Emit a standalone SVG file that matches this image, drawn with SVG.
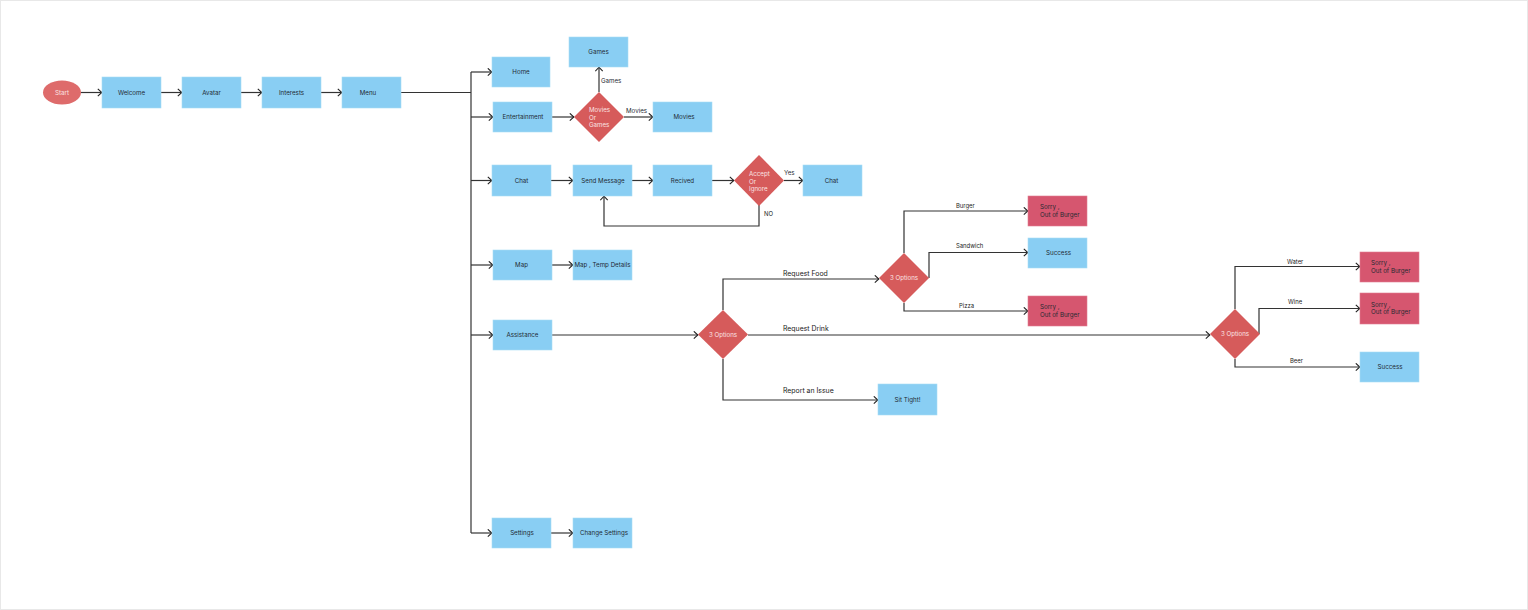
<svg xmlns="http://www.w3.org/2000/svg" width="1528" height="610" viewBox="0 0 1528 610">
<style>
.bx{fill:#89CEF3;stroke:#a9dcf6;stroke-width:0.6}
.rb{fill:#D6566F;stroke:#e07d90;stroke-width:0.6}
.dm{fill:#D65B5B}
.t{font-family:Inter,"Liberation Sans",sans-serif;font-size:6.2px;fill:#1f2a33;text-anchor:middle}
.tl{font-family:Inter,"Liberation Sans",sans-serif;font-size:6.2px;fill:#1f2a33}
.tw{font-family:Inter,"Liberation Sans",sans-serif;font-size:6.2px;fill:#fbe3e3}
.lb{font-family:Inter,"Liberation Sans",sans-serif;font-size:5.9px;fill:#222}
.lb2{font-family:Inter,"Liberation Sans",sans-serif;font-size:6.9px;fill:#222}
.c{fill:none;stroke:#333;stroke-width:1.2}
</style>
<defs>
<marker id="ar" markerUnits="userSpaceOnUse" markerWidth="6" markerHeight="9" viewBox="0 0 6 9" refX="5.2" refY="4.5" orient="auto">
<path d="M1,0.8 L5,4.5 L1,8.2" fill="none" stroke="#222" stroke-width="1.1"/>
</marker>
</defs>
<rect x="0.5" y="0.5" width="1527" height="609" fill="#fff" stroke="#e8e8e8"/>

<g id="connectors">
<path class="c" d="M81,92.5 H102" marker-end="url(#ar)"/>
<path class="c" d="M161,92.5 H182" marker-end="url(#ar)"/>
<path class="c" d="M241,92.5 H262" marker-end="url(#ar)"/>
<path class="c" d="M321,92.5 H342" marker-end="url(#ar)"/>
<path class="c" d="M401,92.5 H471"/>
<path class="c" d="M471,72 V533"/>
<path class="c" d="M471,72 H492" marker-end="url(#ar)"/>
<path class="c" d="M471,117 H493" marker-end="url(#ar)"/>
<path class="c" d="M471,180.5 H492" marker-end="url(#ar)"/>
<path class="c" d="M471,265 H493" marker-end="url(#ar)"/>
<path class="c" d="M471,335 H493" marker-end="url(#ar)"/>
<path class="c" d="M471,533 H492" marker-end="url(#ar)"/>
<!-- entertainment -->
<path class="c" d="M552,117 H574" marker-end="url(#ar)"/>
<path class="c" d="M599,92 V67" marker-end="url(#ar)"/>
<path class="c" d="M624,117 H653" marker-end="url(#ar)"/>
<!-- chat -->
<path class="c" d="M551,180.5 H573" marker-end="url(#ar)"/>
<path class="c" d="M632,180.5 H653" marker-end="url(#ar)"/>
<path class="c" d="M712,180.5 H734" marker-end="url(#ar)"/>
<path class="c" d="M784,180.5 H803" marker-end="url(#ar)"/>
<path class="c" d="M759,205 V226 H604 V196" marker-end="url(#ar)"/>
<!-- map -->
<path class="c" d="M552,265 H573" marker-end="url(#ar)"/>
<!-- settings -->
<path class="c" d="M551,533 H573" marker-end="url(#ar)"/>
<!-- assistance -->
<path class="c" d="M552,335 H698" marker-end="url(#ar)"/>
<path class="c" d="M723,310 V279 H879" marker-end="url(#ar)"/>
<path class="c" d="M748,335 H1210" marker-end="url(#ar)"/>
<path class="c" d="M723,359 V400 H878" marker-end="url(#ar)"/>
<!-- food -->
<path class="c" d="M904,253 V211 H1028" marker-end="url(#ar)"/>
<path class="c" d="M929,278 V252.5 H1028" marker-end="url(#ar)"/>
<path class="c" d="M904,303 V311 H1028" marker-end="url(#ar)"/>
<!-- drink -->
<path class="c" d="M1235,309 V266.5 H1360" marker-end="url(#ar)"/>
<path class="c" d="M1259,334 V308.5 H1360" marker-end="url(#ar)"/>
<path class="c" d="M1235,359 V367 H1360" marker-end="url(#ar)"/>
<!-- labels -->
<text class="tl" x="601" y="82.5">Games</text>
<text class="tl" x="626" y="113">Movies</text>
<text class="tl" x="784" y="175">Yes</text>
<text class="lb" x="764" y="215.5">NO</text>
<text class="lb2" x="783" y="275.5">Request Food</text>
<text class="lb2" x="783" y="330.5">Request Drink</text>
<text class="lb2" x="783" y="392.5">Report an Issue</text>
<text class="lb" x="956" y="208">Burger</text>
<text class="lb" x="956" y="247.5">Sandwich</text>
<text class="lb" x="959" y="307.5">Pizza</text>
<text class="lb" x="1287" y="263.5">Water</text>
<text class="lb" x="1288" y="303.5">Wine</text>
<text class="lb" x="1290" y="363">Beer</text>
</g>

<g id="start"><ellipse cx="62" cy="92.5" rx="19" ry="12" fill="#DE6B6B"/><text class="tw" x="62" y="94.7" text-anchor="middle">Start</text></g>
<g id="welcome"><rect class="bx" x="102" y="77" width="59" height="31"/><text class="t" x="131.5" y="94.7">Welcome</text></g>
<g id="avatar"><rect class="bx" x="182" y="77" width="59" height="31"/><text class="t" x="211.5" y="94.7">Avatar</text></g>
<g id="interests"><rect class="bx" x="262" y="77" width="59" height="31"/><text class="t" x="291.5" y="94.7">Interests</text></g>
<g id="menu"><rect class="bx" x="342" y="77" width="59" height="31"/><text class="t" x="368" y="94.7">Menu</text></g>

<g id="home"><rect class="bx" x="492" y="57" width="58" height="30"/><text class="t" x="521" y="74.2">Home</text></g>
<g id="entertainment"><rect class="bx" x="493" y="102" width="59" height="30"/><text class="t" x="523" y="119.2">Entertainment</text></g>
<g id="movies-or-games"><path class="dm" d="M599,92 L624,117 L599,142 L574,117 Z"/><text class="tw" x="589" y="112.3">Movies</text><text class="tw" x="589" y="119.6">Or</text><text class="tw" x="589" y="127">Games</text></g>
<g id="games"><rect class="bx" x="569" y="37" width="59" height="30"/><text class="t" x="598.5" y="54.2">Games</text></g>
<g id="movies"><rect class="bx" x="653" y="102" width="59" height="30"/><text class="t" x="684" y="119.2">Movies</text></g>

<g id="chat"><rect class="bx" x="492" y="165" width="59" height="31"/><text class="t" x="521.5" y="182.7">Chat</text></g>
<g id="send-message"><rect class="bx" x="573" y="165" width="59" height="31"/><text class="t" x="603" y="182.7">Send Message</text></g>
<g id="recived"><rect class="bx" x="653" y="165" width="59" height="31"/><text class="t" x="682.5" y="182.7">Recived</text></g>
<g id="accept-or-ignore"><path class="dm" d="M759,155 L784,180.5 L759,206 L734,180.5 Z"/><text class="tw" x="749" y="176.3">Accept</text><text class="tw" x="749" y="183.7">Or</text><text class="tw" x="749" y="191">Ignore</text></g>
<g id="chat2"><rect class="bx" x="803" y="165" width="59" height="31"/><text class="t" x="831.5" y="182.7">Chat</text></g>

<g id="map"><rect class="bx" x="493" y="250" width="59" height="30"/><text class="t" x="521.5" y="267.2">Map</text></g>
<g id="map-temp"><rect class="bx" x="573" y="250" width="59" height="30"/><text class="t" x="602.5" y="267.2">Map , Temp Details</text></g>

<g id="assistance"><rect class="bx" x="493" y="320" width="59" height="30"/><text class="t" x="522.5" y="337.2">Assistance</text></g>
<g id="options1"><path class="dm" d="M723,310 L748,334.5 L723,359 L698,334.5 Z"/><text class="tw" x="723" y="336.7" text-anchor="middle">3 Options</text></g>
<g id="options-food"><path class="dm" d="M904,253 L929,278 L904,303 L879,278 Z"/><text class="tw" x="904" y="280.2" text-anchor="middle">3 Options</text></g>
<g id="burger"><rect class="rb" x="1028" y="196" width="59" height="30"/><text class="tl" x="1040" y="209.3">Sorry ,</text><text class="tl" x="1040" y="216.8">Out of Burger</text></g>
<g id="sandwich"><rect class="bx" x="1028" y="238" width="59" height="30"/><text class="t" x="1058.5" y="255.2">Success</text></g>
<g id="pizza"><rect class="rb" x="1028" y="296" width="59" height="30"/><text class="tl" x="1040" y="309.3">Sorry ,</text><text class="tl" x="1040" y="316.8">Out of Burger</text></g>
<g id="sit-tight"><rect class="bx" x="878" y="384" width="59" height="31"/><text class="t" x="907.5" y="401.7">Sit Tight!</text></g>

<g id="options-drink"><path class="dm" d="M1235,309 L1260,334 L1235,359 L1210,334 Z"/><text class="tw" x="1235" y="336.2" text-anchor="middle">3 Options</text></g>
<g id="water"><rect class="rb" x="1360" y="252" width="59" height="30"/><text class="tl" x="1371" y="265.3">Sorry ,</text><text class="tl" x="1371" y="272.8">Out of Burger</text></g>
<g id="wine"><rect class="rb" x="1360" y="293" width="59" height="31"/><text class="tl" x="1371" y="306.8">Sorry ,</text><text class="tl" x="1371" y="314.3">Out of Burger</text></g>
<g id="beer"><rect class="bx" x="1360" y="352" width="59" height="30"/><text class="t" x="1390" y="369.2">Success</text></g>

<g id="settings"><rect class="bx" x="492" y="518" width="59" height="30"/><text class="t" x="522" y="535.2">Settings</text></g>
<g id="change-settings"><rect class="bx" x="573" y="518" width="59" height="30"/><text class="t" x="604" y="535.2">Change Settings</text></g>
</svg>
